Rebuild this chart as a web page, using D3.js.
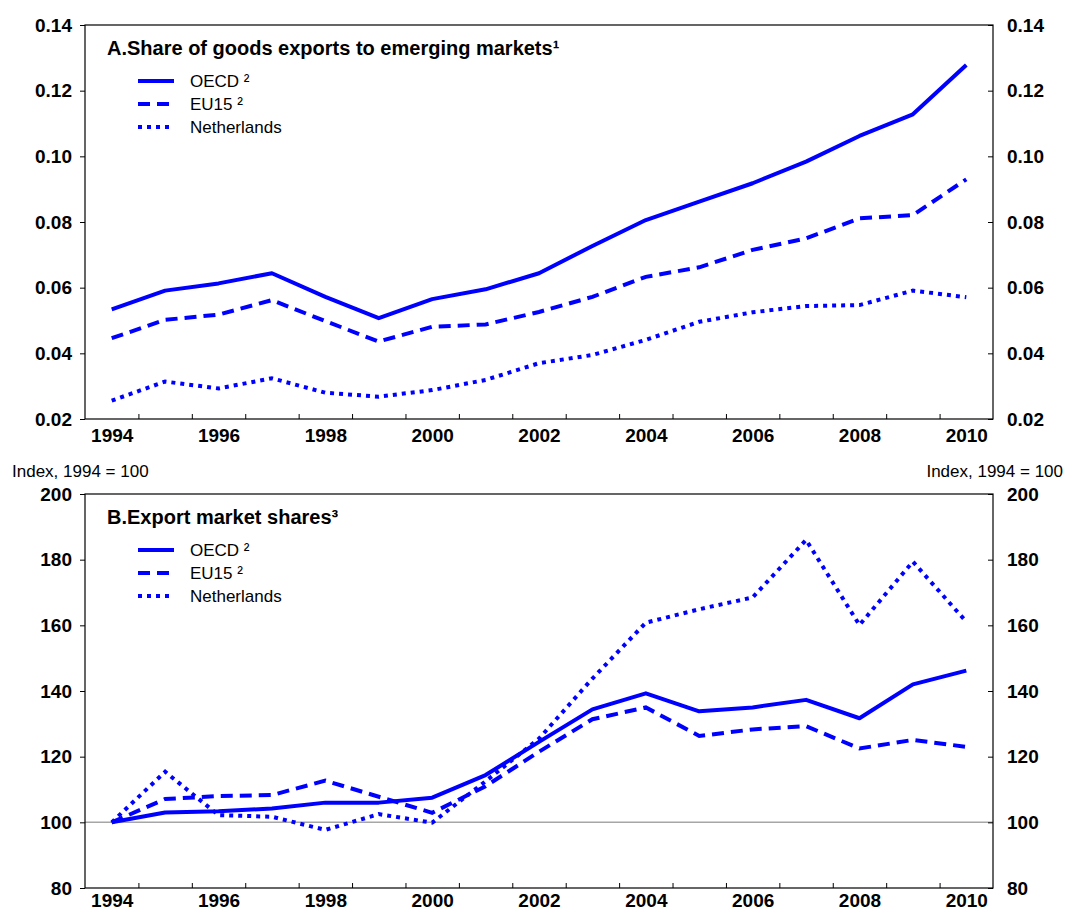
<!DOCTYPE html>
<html>
<head>
<meta charset="utf-8">
<script src="https://cdn.jsdelivr.net/npm/d3@7"></script>
<style>
  html, body { margin: 0; padding: 0; background: #fff; }
  svg { display: block; font-family: "Liberation Sans", Arial, sans-serif; }
</style>
</head>
<body>
<svg id="chart" width="1070" height="914"></svg>
<script>
// Years shown on the horizontal axis
const years = [1994,1995,1996,1997,1998,1999,2000,2001,2002,2003,2004,2005,2006,2007,2008,2009,2010];
const yearLabels = [1994,1996,1998,2000,2002,2004,2006,2008,2010];

// Panel A: share of goods exports to emerging markets
const shareOECD = [0.0534,0.0591,0.0613,0.0644,0.0572,0.0507,0.0565,0.0595,0.0644,0.0727,0.0806,0.0862,0.0918,0.0984,0.1062,0.1128,0.1278];
const shareEU15 = [0.0446,0.0502,0.0518,0.0562,0.0498,0.0436,0.0481,0.0488,0.0526,0.0572,0.0633,0.0662,0.0715,0.0750,0.0811,0.0821,0.0930];
const shareNLD  = [0.0256,0.0314,0.0293,0.0324,0.0280,0.0268,0.0288,0.0319,0.0370,0.0395,0.0441,0.0496,0.0525,0.0544,0.0547,0.0591,0.0571];
const ticksA = [0.02,0.04,0.06,0.08,0.10,0.12,0.14];

// Panel B: export market shares, index 1994 = 100
const mktOECD = [100,103.0,103.4,104.2,106.0,106.0,107.5,114.4,124.5,134.4,139.3,133.8,135.0,137.3,131.7,142.0,146.2];
const mktEU15 = [100,107.1,108.0,108.3,112.7,107.8,102.9,111.0,121.5,131.4,135.0,126.3,128.3,129.3,122.5,125.1,123.0];
const mktNLD  = [100,115.4,102.2,101.7,97.7,102.5,99.9,112.5,125.5,143.8,160.8,164.9,168.5,186.0,160.1,179.4,161.1];
const ticksB = [80,100,120,140,160,180,200];

const seriesNames = ["OECD \u00B2", "EU15 \u00B2", "Netherlands"];
const dashes = [null, "12,7", "4,5"];
const blue = "#0000ff";

const svg = d3.select("#chart");
const left = 85, right = 993;

const x = d3.scalePoint().domain(years).range([left, right]).padding(0.5);
const xBounds = d3.scaleLinear().domain([0, years.length]).range([left, right]);

function panel(opts) {
  const g = svg.append("g");
  const y = d3.scaleLinear().domain(opts.domain).range([opts.bottom, opts.top]);

  if (opts.refLine != null) {
    g.append("line")
      .attr("x1", left).attr("x2", right)
      .attr("y1", y(opts.refLine)).attr("y2", y(opts.refLine))
      .attr("stroke", "#a6a6a6").attr("stroke-width", 1.5);
  }

  // left axis, ticks pointing out
  const la = g.append("g").attr("transform", `translate(${left},0)`)
    .call(d3.axisLeft(y).tickValues(opts.ticks).tickFormat(opts.fmt).tickSize(5).tickPadding(8));
  // right axis, ticks pointing in
  const ra = g.append("g").attr("transform", `translate(${right},0)`)
    .call(d3.axisRight(y).tickValues(opts.ticks).tickFormat(opts.fmt).tickSize(-5).tickPadding(14));
  // category boundary ticks on the bottom edge, pointing in
  const ba = g.append("g").attr("transform", `translate(0,${opts.bottom})`)
    .call(d3.axisBottom(xBounds).tickValues(d3.range(1, years.length)).tickFormat("").tickSize(-5));
  // year labels centred under each category
  const bl = g.append("g").attr("transform", `translate(0,${opts.bottom})`)
    .call(d3.axisBottom(x).tickValues(yearLabels).tickFormat(d3.format("d")).tickSize(0).tickPadding(opts.xPad));

  [la, ra, ba, bl].forEach(a => {
    a.select(".domain").remove();
    a.selectAll("line").attr("stroke", "#000");
    a.selectAll("text").attr("font-size", 19).attr("font-weight", "bold")
      .attr("fill", "#000").attr("font-family", "Liberation Sans, Arial, sans-serif");
  });

  // frame
  g.append("rect")
    .attr("x", left).attr("y", opts.top)
    .attr("width", right - left).attr("height", opts.bottom - opts.top)
    .attr("fill", "none").attr("stroke", "#000").attr("stroke-width", 1.2);

  const line = d3.line().x((d, i) => x(years[i])).y(d => y(d));
  opts.series.forEach((s, k) => {
    g.append("path")
      .datum(s)
      .attr("d", line)
      .attr("fill", "none")
      .attr("stroke", blue)
      .attr("stroke-width", 4)
      .attr("stroke-linejoin", k === 0 ? "round" : "miter")
      .attr("stroke-dasharray", dashes[k]);
  });

  // panel title
  g.append("text")
    .attr("x", 107).attr("y", opts.top + 30)
    .attr("font-size", 20).attr("font-weight", "bold")
    .text(opts.title);

  // legend
  seriesNames.forEach((name, k) => {
    const ly = opts.top + 56 + k * 23;
    g.append("line")
      .attr("x1", 138).attr("x2", 174).attr("y1", ly).attr("y2", ly)
      .attr("stroke", blue).attr("stroke-width", 4)
      .attr("stroke-dasharray", dashes[k]);
    g.append("text")
      .attr("x", 190).attr("y", ly + 6)
      .attr("font-size", 17)
      .text(name);
  });
}

panel({
  top: 25, bottom: 419, domain: [0.02, 0.14], ticks: ticksA,
  fmt: d3.format(".2f"), xPad: 10,
  series: [shareOECD, shareEU15, shareNLD],
  title: "A.Share of goods exports to emerging markets\u00B9"
});

panel({
  top: 494, bottom: 888, domain: [80, 200], ticks: ticksB,
  fmt: d3.format("d"), refLine: 100, xPad: 6,
  series: [mktOECD, mktEU15, mktNLD],
  title: "B.Export market shares\u00B3"
});

// unit labels above panel B
svg.append("text").attr("x", 12).attr("y", 477)
  .attr("font-size", 17).text("Index, 1994 = 100");
svg.append("text").attr("x", 1063).attr("y", 477).attr("text-anchor", "end")
  .attr("font-size", 17).text("Index, 1994 = 100");
</script>
</body>
</html>
